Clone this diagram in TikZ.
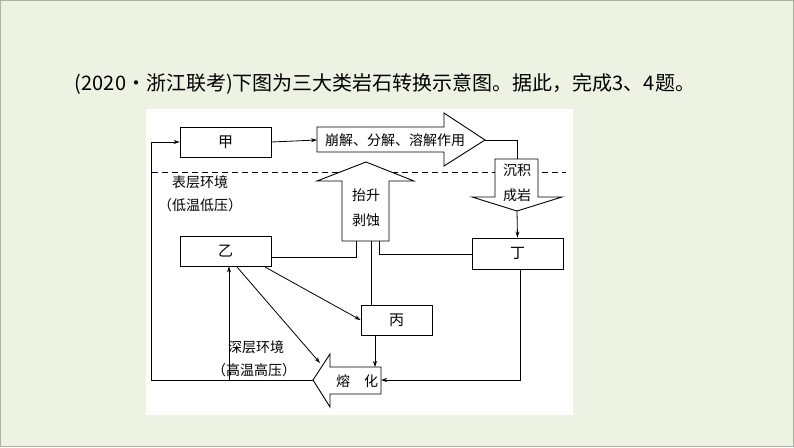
\documentclass[tikz,border=0pt]{standalone}
\usepackage{fontspec}
\setmainfont{Noto Sans CJK SC}
\usetikzlibrary{arrows.meta}
\definecolor{bgreen}{HTML}{EDF2E3}
\definecolor{bframe}{HTML}{A9B3A0}
\tikzset{
  rock/.style={draw, line width=0.9pt, inner sep=0pt, font=\fontsize{15}{17}\selectfont},
  lbl/.style={inner sep=0pt, font=\fontsize{14}{16}\selectfont},
  link/.style={line width=0.8pt},
  flow/.style={link, -{Stealth[length=6pt,width=4pt]}},
  fat/.style={draw, line width=0.9pt, fill=white}
}
\begin{document}
\begin{tikzpicture}[x=1pt, y=-1pt]
\useasboundingbox (0,0) rectangle (794,447);
\fill[bgreen] (0,0) rectangle (794,447);
\draw[bframe, line width=1pt] (0.5,0.5) rectangle (793.5,446.5);
\fill[white] (146,109) rectangle (573,415);
\node[inner sep=0pt, font=\fontsize{20}{24}\selectfont] (title) at (385,84) {(2020·浙江联考)下图为三大类岩石转换示意图。据此，完成3、4题。};
% dashed boundary
\draw[link, dashed, dash pattern=on 6pt off 4pt] (152,172) -- (566,172);
% fat arrows
\draw[fat] (317,127) -- (444,127) -- (444,113) -- (485,140) -- (444,166) -- (444,152) -- (317,152) -- cycle;
\node[lbl] (weather) at (395,140) {崩解、分解、溶解作用};
\draw[fat] (495,159) -- (538,159) -- (538,197) -- (562,197) -- (517,211) -- (472,197) -- (495,197) -- cycle;
\node[lbl] (dep) at (517,170) {沉积};
\node[lbl] (lith) at (517,195) {成岩};
\draw[fat] (342,241) -- (342,181) -- (317,181) -- (366,162) -- (414,181) -- (389,181) -- (389,241) -- cycle;
\node[lbl] (lift) at (366,195) {抬升};
\node[lbl] (eros) at (366,220) {剥蚀};
\draw[fat] (381,367) -- (330,367) -- (330,354) -- (313,380) -- (330,407) -- (330,394) -- (381,394) -- cycle;
\node[lbl] (melt) at (357,381) {熔\quad 化};
% rock boxes
\node[rock, minimum width=91pt, minimum height=30pt] (jia) at (225.5,142) {甲};
\node[rock, minimum width=91pt, minimum height=30pt] (yi) at (225.5,251) {乙};
\node[rock, minimum width=91pt, minimum height=31pt] (ding) at (517.5,253.5) {丁};
\node[rock, minimum width=71pt, minimum height=30pt] (bing) at (396.5,320) {丙};
% environment labels
\node[lbl] (surf) at (200,182) {表层环境};
\node[lbl] (surfc) at (200,205) {（低温低压）};
\node[lbl] (deep) at (256,347) {深层环境};
\node[lbl] (deepc) at (254,370) {（高温高压）};
% connectors
\coordinate (wl) at (317,140);
\coordinate (wt) at (485,140);
\coordinate (dt) at (517,159);
\coordinate (db) at (517,211);
\coordinate (ub) at (366,241);
\coordinate (mt) at (313,380);
\coordinate (mr) at (381,380);
\draw[flow] (jia.east) -- (wl);
\draw[link] (wt) -- (517,140) -- (dt);
\draw[flow] (db) -- (ding.north);
\draw[link] (yi.east |- 0,257) -- (356,257) -- (356,241);
\draw[link] (ding.west |- 0,254) -- (379,254) -- (379,241);
\draw[link] (bing.north -| 371,0) -- (371,241);
\draw[flow] (265,267) -- (bing.west);
\draw[flow] (237,267) -- (320,363);
\draw[flow] (bing.south -| 375,0) -- (375,367);
\draw[flow] (ding.south -| 520,0) -- (520,380) -- (mr);
\draw[flow] (mt) -- (151,380) -- (151,142) -- (jia.west);
\draw[flow] (229,380) -- (yi.south -| 229,0);
\end{tikzpicture}
\end{document}
